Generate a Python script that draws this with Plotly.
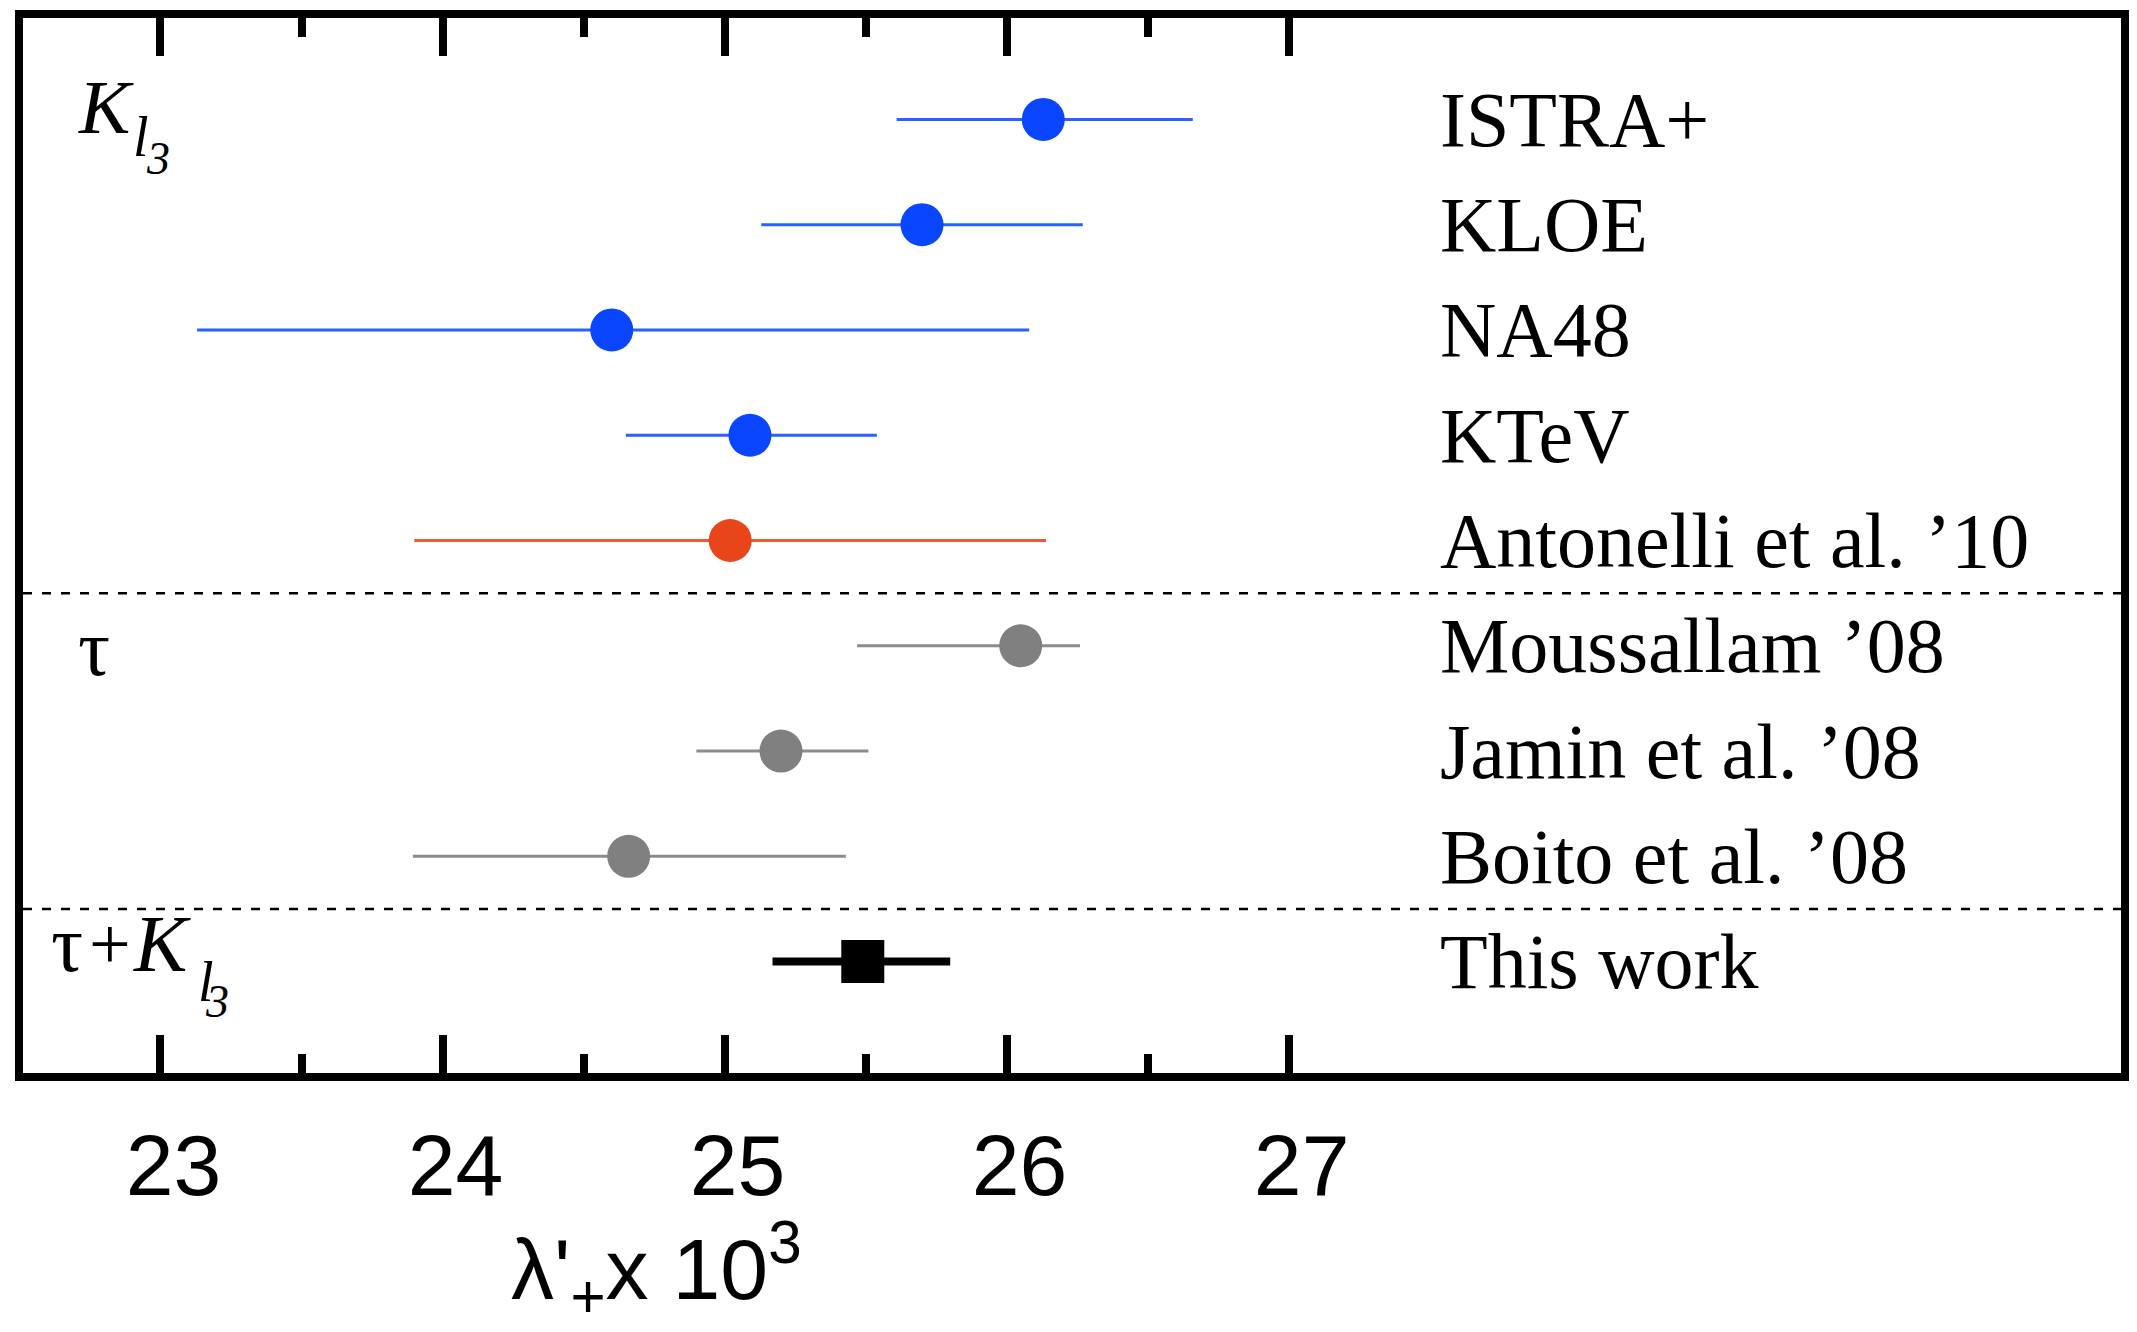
import plotly.graph_objects as go

# ---- data ----
labels = ["ISTRA+", "KLOE", "NA48", "KTeV", "Antonelli et al. ’10",
          "Moussallam ’08", "Jamin et al. ’08", "Boito et al. ’08", "This work"]
values = [26.13, 25.70, 24.60, 25.09, 25.02, 26.05, 25.20, 24.66, 25.49]
err_minus = [0.52, 0.57, 1.47, 0.44, 1.12, 0.58, 0.30, 0.765, 0.32]
err_plus = [0.53, 0.57, 1.48, 0.45, 1.12, 0.21, 0.31, 0.77, 0.31]
groups = ["blue", "blue", "blue", "blue", "red", "gray", "gray", "gray", "black"]
tick_vals = [23, 24, 25, 26, 27]
minor_vals = [23.5, 24.5, 25.5, 26.5]
separators = [4.5, 7.5]

styles = {
    "blue": dict(marker="#0A46FF", line="#2A60FF", symbol="circle", size=43, thick=3),
    "red": dict(marker="#E8461A", line="#EE5A33", symbol="circle", size=43, thick=3),
    "gray": dict(marker="#808080", line="#8C8C8C", symbol="circle", size=43, thick=3),
    "black": dict(marker="#000000", line="#000000", symbol="square", size=43, thick=8),
}

fig = go.Figure()
rows = list(range(len(labels)))
for g, st in styles.items():
    idx = [i for i in rows if groups[i] == g]
    fig.add_trace(go.Scatter(
        x=[values[i] for i in idx], y=idx, mode="markers",
        marker=dict(color=st["marker"], symbol=st["symbol"], size=st["size"], line=dict(width=0)),
        error_x=dict(type="data", symmetric=False,
                     array=[err_plus[i] for i in idx],
                     arrayminus=[err_minus[i] for i in idx],
                     color=st["line"], thickness=st["thick"], width=0),
        showlegend=False, cliponaxis=False))

for s in separators:
    fig.add_shape(type="line", xref="paper", x0=0, x1=1, yref="y", y0=s, y1=s,
                  line=dict(color="black", width=2.5, dash="9px,10px"))

serif = "Liberation Serif"
for i, lab in enumerate(labels):
    fig.add_annotation(x=27.53, y=i, xref="x", yref="y", text=lab, showarrow=False,
                       xanchor="left", yanchor="middle",
                       font=dict(family=serif, size=78, color="black"))

# group labels
def ann(x, y, text, size, xanchor="center"):
    fig.add_annotation(x=x, y=y, xref="x", yref="y", text=text, showarrow=False,
                       xanchor=xanchor, yanchor="middle",
                       font=dict(family=serif, size=size, color="black"))

ann(22.70, -0.12, "<i>K</i>", 77, "left")
ann(22.93, 0.17, "<i>l</i>", 56)
ann(22.99, 0.37, "<i>3</i>", 46)
ann(22.70, 5.02, "τ", 80, "left")
ann(22.668, 7.83, "τ", 80)
ann(22.820, 7.83, "+", 74)
ann(22.895, 7.83, "<i>K</i>", 80, "left")
ann(23.16, 8.19, "<i>l</i>", 56)
ann(23.20, 8.38, "<i>3</i>", 46)

fig.add_annotation(x=24.76, y=-0.186, xref="x", yref="paper",
                   text="λ'<sub>+</sub>x 10<sup>3</sup>", showarrow=False,
                   xanchor="center", yanchor="middle",
                   font=dict(family="Liberation Sans", size=86, color="black"))

fig.update_xaxes(range=[22.5126, 29.951], tickvals=tick_vals, ticktext=[str(v) for v in tick_vals],
                 ticks="inside", ticklen=38, tickwidth=8, tickcolor="black",
                 minor=dict(tickvals=minor_vals, ticks="inside", ticklen=19, tickwidth=8, tickcolor="black"),
                 showline=True, linewidth=8, linecolor="black", mirror="allticks",
                 showgrid=False, zeroline=False,
                 tickfont=dict(family="Liberation Sans", size=86, color="black"),
                 ticklabelshift=13, ticklabelstandoff=11)
fig.update_yaxes(range=[9.059, -0.964], showticklabels=False, ticks="",
                 showline=True, linewidth=8, linecolor="black", mirror=True,
                 showgrid=False, zeroline=False)

fig.update_layout(width=2137, height=1332, margin=dict(l=23, r=8, t=18, b=259),
                  plot_bgcolor="white", paper_bgcolor="white")

fig.write_html("out.html")
